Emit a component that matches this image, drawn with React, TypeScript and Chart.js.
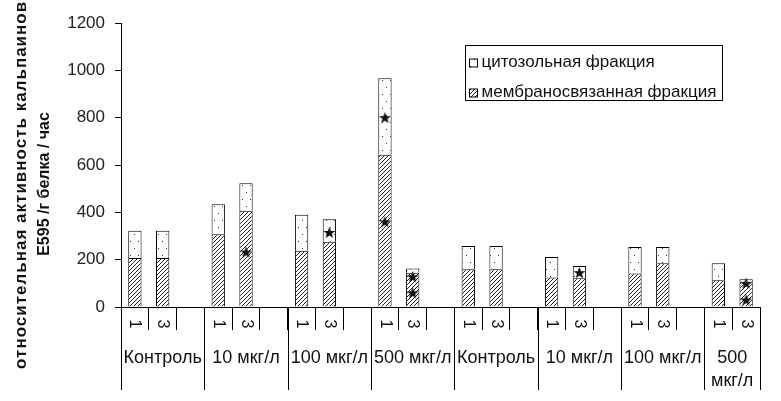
import React, { useEffect, useRef } from "react";
import { Chart, registerables } from "chart.js";

Chart.register(...registerables);

// ---- data ----
const categories = ["1", "3", "", "1", "3", "", "1", "3", "", "1", "3", "", "1", "3", "", "1", "3", "", "1", "3", "", "1", "3"];
const groupLabels = [["Контроль"], ["10 мкг/л"], ["100 мкг/л"], ["500 мкг/л"], ["Контроль"], ["10 мкг/л"], ["100 мкг/л"], ["500", "мкг/л"]];
const groupSizes = [3, 3, 3, 3, 3, 3, 3, 2];
const membrane = [207, 207, null, 307, 407, null, 238, 276, null, 643, 145, null, 159, 159, null, 125, 121, null, 142, 185, null, 113, 105];
const cytosol = [115, 115, null, 127, 116, null, 152, 95, null, 324, 18, null, 99, 99, null, 86, 52, null, 111, 68, null, 72, 12];
const starsUpper = [null, null, null, null, 232, null, null, 315, null, 800, 128, null, null, null, null, null, 145, null, null, null, null, null, 100];
const starsLower = [null, null, null, null, null, null, null, null, null, 360, 60, null, null, null, null, null, null, null, null, null, null, null, 30];
const seriesLabels = ["мембраносвязанная фракция", "цитозольная фракция"];
const legendOrder = [1, 0];
const yTitle = ["относительная активность кальпаинов,", "E595 /г белка / час"];
const yMin = 0;
const yMax = 1200;
const yStep = 200;

const FONT = "'Liberation Sans', Arial, sans-serif";

function makeHatch(): CanvasPattern | string {
  const c = document.createElement("canvas");
  c.width = 4;
  c.height = 4;
  const g = c.getContext("2d")!;
  g.fillStyle = "#fff";
  g.fillRect(0, 0, 4, 4);
  g.strokeStyle = "#222";
  g.lineWidth = 1;
  g.beginPath();
  g.moveTo(-1, 5);
  g.lineTo(5, -1);
  g.stroke();
  return g.createPattern(c, "repeat") || "#fff";
}

function makeDots(): CanvasPattern | string {
  const c = document.createElement("canvas");
  c.width = 8;
  c.height = 14;
  const g = c.getContext("2d")!;
  g.fillStyle = "#fff";
  g.fillRect(0, 0, 8, 14);
  g.fillStyle = "#333";
  g.fillRect(2, 3, 1, 1);
  g.fillRect(6, 10, 1, 1);
  return g.createPattern(c, "repeat") || "#fff";
}

function makeStar(): HTMLCanvasElement {
  const size = 13;
  const c = document.createElement("canvas");
  c.width = size;
  c.height = size;
  const g = c.getContext("2d")!;
  const cx = size / 2;
  const cy = size / 2 + 0.5;
  const R = 6.3;
  const r = 2.6;
  g.fillStyle = "#111";
  g.beginPath();
  for (let i = 0; i < 10; i++) {
    const ang = -Math.PI / 2 + (i * Math.PI) / 5;
    const rad = i % 2 === 0 ? R : r;
    const px = cx + rad * Math.cos(ang);
    const py = cy + rad * Math.sin(ang);
    if (i === 0) g.moveTo(px, py);
    else g.lineTo(px, py);
  }
  g.closePath();
  g.fill();
  return c;
}

export default function App() {
  const ref = useRef<HTMLCanvasElement | null>(null);

  useEffect(() => {
    if (!ref.current) return;
    const hatch = makeHatch();
    const dots = makeDots();
    const star = makeStar();
    const fills = [hatch, dots];

    const decor = {
      id: "decor",
      afterDraw(chart: any) {
        const { ctx, chartArea, scales } = chart;
        const x = scales.x;
        const step = x.getPixelForValue(1) - x.getPixelForValue(0);
        ctx.save();
        ctx.fillStyle = "#111";
        ctx.strokeStyle = "#000";
        ctx.lineWidth = 1;

        // category labels (rotated clockwise)
        ctx.font = `16px ${FONT}`;
        ctx.textAlign = "center";
        ctx.textBaseline = "middle";
        categories.forEach((c, i) => {
          if (!c) return;
          const px = x.getPixelForValue(i);
          ctx.save();
          ctx.translate(px, chartArea.bottom + 17);
          ctx.rotate(Math.PI / 2);
          ctx.fillText(c, 0, 0);
          ctx.restore();
        });

        // group separators & labels
        let s = 0;
        ctx.font = `18px ${FONT}`;
        const drawSep = (px: number) => {
          const xx = Math.round(px) + 0.5;
          ctx.beginPath();
          ctx.moveTo(xx, chartArea.bottom);
          ctx.lineTo(xx, chartArea.bottom + 83);
          ctx.stroke();
        };
        groupSizes.forEach((n, g) => {
          const left = x.getPixelForValue(s) - step / 2;
          const right = x.getPixelForValue(s + n - 1) + step / 2;
          if (g === 0) drawSep(left);
          drawSep(right);
          const cx = (left + right) / 2;
          groupLabels[g].forEach((t, k) => {
            ctx.fillText(t, cx, chartArea.bottom + 51 + k * 23);
          });
          s += n;
        });

        // y title
        ctx.save();
        ctx.translate(21, 182);
        ctx.rotate(-Math.PI / 2);
        ctx.font = `bold 17px ${FONT}`;
        try {
          (ctx as any).letterSpacing = "1px";
        } catch (e) {}
        ctx.fillText(yTitle[0], 0, 0);
        try {
          (ctx as any).letterSpacing = "0px";
        } catch (e) {}
        ctx.restore();
        ctx.save();
        ctx.translate(45, 184);
        ctx.rotate(-Math.PI / 2);
        ctx.font = `bold 16px ${FONT}`;
        ctx.fillText(yTitle[1], 0, 0);
        ctx.restore();

        // legend
        ctx.font = `17px ${FONT}`;
        ctx.textAlign = "left";
        const lLeft = Math.round(chartArea.left + 344) + 0.5;
        const lTop = Math.round(chartArea.top + 22) + 0.5;
        const textW = Math.max(...legendOrder.map((i) => ctx.measureText(seriesLabels[i]).width));
        const lW = Math.round(textW + 22);
        const lH = 55;
        ctx.strokeRect(lLeft, lTop, lW, lH);
        legendOrder.forEach((di, row) => {
          const cy = lTop + 17 + row * 30;
          ctx.fillStyle = fills[di] as any;
          ctx.fillRect(lLeft + 4, Math.round(cy - 4), 8, 8);
          ctx.strokeRect(lLeft + 4, Math.round(cy - 4), 8, 8);
          ctx.fillStyle = "#111";
          ctx.fillText(seriesLabels[di], lLeft + 16, cy);
        });
        ctx.restore();
      },
    };

    const chart = new Chart(ref.current, {
      type: "bar",
      data: {
        labels: categories,
        datasets: [
          {
            type: "line",
            label: "stars1",
            data: starsUpper as any,
            showLine: false,
            pointStyle: star as any,
            pointRadius: 6,
            stack: "s1",
            order: -2,
          } as any,
          {
            type: "line",
            label: "stars2",
            data: starsLower as any,
            showLine: false,
            pointStyle: star as any,
            pointRadius: 6,
            stack: "s2",
            order: -1,
          } as any,
          {
            label: seriesLabels[0],
            data: membrane as any,
            backgroundColor: hatch as any,
            borderColor: "#000",
            borderWidth: 1,
            stack: "bars",
            categoryPercentage: 1,
            barPercentage: 0.48,
          },
          {
            label: seriesLabels[1],
            data: cytosol as any,
            backgroundColor: dots as any,
            borderColor: "#000",
            borderWidth: 1,
            stack: "bars",
            categoryPercentage: 1,
            barPercentage: 0.48,
          },
        ],
      },
      options: {
        responsive: false,
        animation: false,
        layout: { padding: { top: 23, right: 21, bottom: 0, left: 0 } },
        plugins: { legend: { display: false }, tooltip: { enabled: false } },
        scales: {
          x: {
            stacked: true,
            offset: true,
            grid: { offset: true, drawOnChartArea: false, tickLength: 23, color: "#000", lineWidth: 1 },
            border: { display: true, color: "#000", width: 1 },
            ticks: { display: false },
            afterFit: (scale: any) => {
              scale.height = 94;
            },
          },
          y: {
            stacked: true,
            min: yMin,
            max: yMax,
            grid: { drawOnChartArea: false, tickLength: 6, color: "#000" },
            border: { display: true, color: "#000", width: 1 },
            ticks: {
              stepSize: yStep,
              padding: 10,
              color: "#222",
              font: { family: FONT, size: 17 },
              callback: (v: any) => String(v),
            },
            afterFit: (scale: any) => {
              scale.width = 121;
            },
          },
        },
      },
      plugins: [decor],
    });
    return () => chart.destroy();
  }, []);

  return (
    <div style={{ position: "fixed", left: 0, top: 0, width: 781, height: 401, background: "#fff" }}>
      <canvas ref={ref} width={781} height={401} style={{ display: "block" }} />
    </div>
  );
}
